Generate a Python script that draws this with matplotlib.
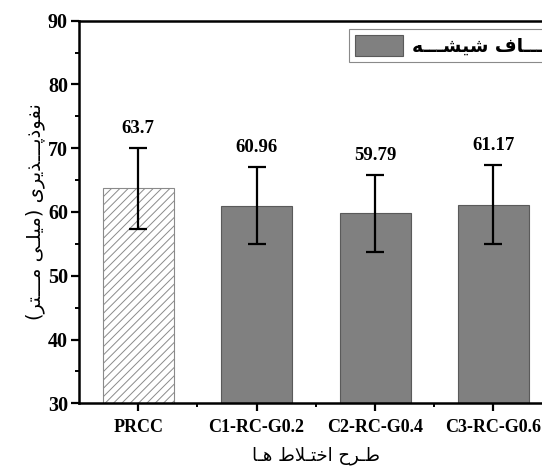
import matplotlib
matplotlib.use("Agg")
import matplotlib.pyplot as plt
from matplotlib.ticker import AutoMinorLocator, FixedLocator

categories = ["PRCC", "C1-RC-G0.2", "C2-RC-G0.4", "C3-RC-G0.6"]
values = [63.7, 60.96, 59.79, 61.17]
errors = [6.35, 6.05, 6.0, 6.15]
value_labels = ["63.7", "60.96", "59.79", "61.17"]

ylabel_text = "نفوذپـــذیری (میلـی مـــتر)"
xlabel_text = "طـرح اختـلاط هـا"
legend_text = "الیـــاف شیشـــه"

# presentation forms: isolated, final, initial, medial
FORMS = {
    "ا": ("\uFE8D", "\uFE8E", None, None),
    "ت": ("\uFE95", "\uFE96", "\uFE97", "\uFE98"),
    "ح": ("\uFEA1", "\uFEA2", "\uFEA3", "\uFEA4"),
    "خ": ("\uFEA5", "\uFEA6", "\uFEA7", "\uFEA8"),
    "ذ": ("\uFEAB", "\uFEAC", None, None),
    "ر": ("\uFEAD", "\uFEAE", None, None),
    "ش": ("\uFEB5", "\uFEB6", "\uFEB7", "\uFEB8"),
    "ط": ("\uFEC1", "\uFEC2", "\uFEC3", "\uFEC4"),
    "ف": ("\uFED1", "\uFED2", "\uFED3", "\uFED4"),
    "ل": ("\uFEDD", "\uFEDE", "\uFEDF", "\uFEE0"),
    "م": ("\uFEE1", "\uFEE2", "\uFEE3", "\uFEE4"),
    "ن": ("\uFEE5", "\uFEE6", "\uFEE7", "\uFEE8"),
    "ه": ("\uFEE9", "\uFEEA", "\uFEEB", "\uFEEC"),
    "و": ("\uFEED", "\uFEEE", None, None),
    "ی": ("\uFBFC", "\uFBFD", "\uFBFE", "\uFBFF"),
    "پ": ("\uFB56", "\uFB57", "\uFB58", "\uFB59"),
}
TATWEEL = "ـ"


def joins_next(c):
    return c == TATWEEL or (c in FORMS and FORMS[c][2] is not None)


def is_arabic(c):
    return c == TATWEEL or c in FORMS


def shape(text):
    # no reshaper/bidi available, do it by hand
    res = []
    i, n = 0, len(text)
    while i < n:
        c = text[i]
        link_prev = i > 0 and joins_next(text[i - 1])
        if c == "ل" and i + 1 < n and text[i + 1] == "ا":
            res.append("\uFEFC" if link_prev else "\uFEFB")
            i += 2
            continue
        if c in FORMS:
            iso, fin, ini, med = FORMS[c]
            link_next = ini is not None and i + 1 < n and is_arabic(text[i + 1])
            if link_prev and link_next:
                res.append(med)
            elif link_prev:
                res.append(fin)
            elif link_next:
                res.append(ini)
            else:
                res.append(iso)
        else:
            res.append(c)
        i += 1
    visual = "".join(reversed(res))
    return visual.translate(str.maketrans("()", ")("))


plt.rcParams["font.family"] = ["Liberation Serif", "DejaVu Sans"]
plt.rcParams["hatch.linewidth"] = 0.7

fig = plt.figure(figsize=(5.42, 4.73), dpi=100)
ax = fig.add_axes([0.1458, 0.1474, 0.8738, 0.8088])

x = list(range(len(categories)))
err_kw = dict(ecolor="black", elinewidth=1.6, capsize=6.5, capthick=1.6)

ax.bar(x[0], values[0], width=0.6, yerr=errors[0], color="white",
       edgecolor="#8a8a8a", hatch="////", linewidth=0.8, error_kw=err_kw,
       zorder=2)
ax.bar(x[1:], values[1:], width=0.6, yerr=errors[1:], color="#808080",
       edgecolor="#5a5a5a", linewidth=0.8, error_kw=err_kw,
       label=shape(legend_text), zorder=2)

for xi, v, e, lab in zip(x, values, errors, value_labels):
    ax.annotate(lab, (xi, v + e), xytext=(0, 8), textcoords="offset points",
                ha="center", va="bottom", fontsize=13.5, fontweight="bold")

ax.set_xlim(-0.5, 3.5)
ax.set_ylim(30, 90)
ax.set_yticks([30, 40, 50, 60, 70, 80, 90])
ax.yaxis.set_minor_locator(AutoMinorLocator(2))
ax.set_xticks(x)
ax.set_xticklabels(categories)
ax.xaxis.set_minor_locator(FixedLocator([0.5, 1.5, 2.5]))

for lab in ax.get_xticklabels():
    lab.set_fontweight("bold")
    lab.set_fontsize(13)
for lab in ax.get_yticklabels():
    lab.set_fontweight("bold")
    lab.set_fontsize(14.5)

ax.tick_params(axis="both", which="major", direction="out", length=6,
               width=1.6, pad=2)
ax.tick_params(axis="x", which="major", pad=5)
ax.tick_params(axis="both", which="minor", direction="out", length=3,
               width=1.4)

for s in ax.spines.values():
    s.set_linewidth(1.8)

ax.set_ylabel(shape(ylabel_text), fontsize=14, family="DejaVu Sans",
              labelpad=2)
ax.set_xlabel(shape(xlabel_text), fontsize=13, family="DejaVu Sans",
              labelpad=8)

leg = ax.legend(loc="upper left", bbox_to_anchor=(349 / 542, 1 - 29 / 473),
                bbox_transform=fig.transFigure, borderaxespad=0,
                fancybox=False, framealpha=1, edgecolor="#8a8a8a",
                handlelength=2.6, handleheight=1.4, borderpad=0.3,
                handletextpad=0.45,
                prop={"family": "DejaVu Sans", "size": 13.5, "weight": "bold"})
leg.get_frame().set_linewidth(0.8)

fig.savefig("out.png", dpi=100)
